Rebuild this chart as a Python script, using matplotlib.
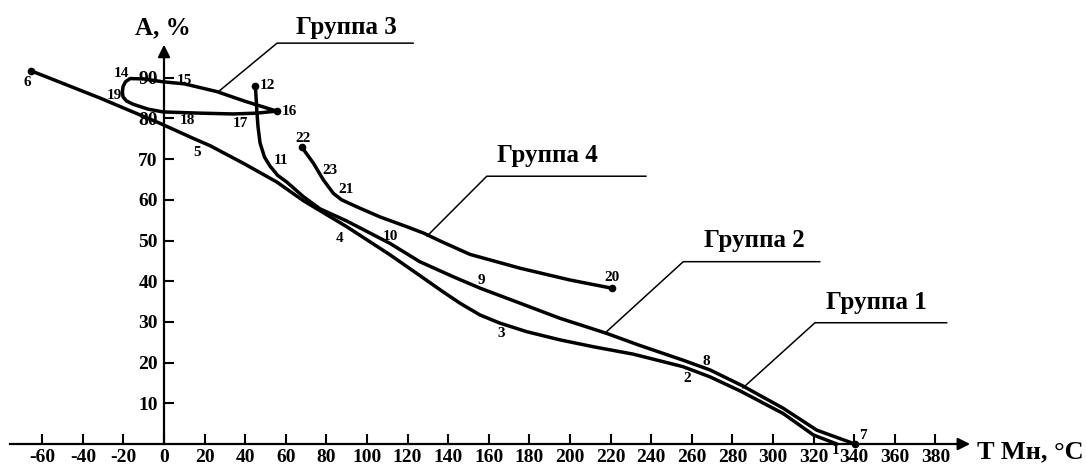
import matplotlib
matplotlib.use("Agg")
import matplotlib.pyplot as plt

# ---------------- data (T Mн, °C  vs  A, %) ----------------
g1_T = [-65.5, -31.5, -2, 14.4, 22.7, 39, 55.5, 68.6, 90, 111, 126, 136, 145.8, 155.7, 165.5,
        178.7, 195, 211.5, 231, 243, 255.7, 269, 284, 305, 320, 331.5]
g1_A = [91.7, 85.0, 78.8, 75.1, 73.3, 69.0, 64.4, 59.8, 53.4, 46.6, 41.4, 37.9, 34.6, 31.7, 29.7,
        27.6, 25.6, 23.9, 22.1, 20.6, 19.0, 16.5, 13.0, 7.5, 2.2, 0.0]

g2_T = [45, 45.5, 45.7, 46.3, 47.3, 49.5, 52.2, 56, 60.4, 68.6, 76.8, 90, 111.3, 126, 142.5,
        155.7, 175.4, 195, 218, 234.5, 255.7, 269, 285, 305, 321.6, 340.4]
g2_A = [88.0, 84.0, 82.0, 78.0, 74.0, 70.5, 68.3, 66.0, 64.4, 60.8, 57.8, 54.8, 49.3, 44.8, 41.1,
        38.3, 34.6, 30.9, 27.2, 24.2, 20.6, 18.2, 14.3, 8.8, 3.4, 0.0]

g3_T = [55.5, 40, 26, 10, -0.5, -10, -16.7, -19, -20.2, -20.5, -20.2, -18.5, -15.3, -8, -0.5, 17.7, 34, 45.7, 55.5]
g3_A = [81.8, 84.2, 86.6, 88.5, 89.0, 89.7, 89.8, 89.0, 87.8, 86.5, 85.3, 84.3, 83.5, 82.3, 81.6, 81.3, 81.1, 81.3, 81.8]

g4_T = [67.8, 73.6, 78.5, 83.4, 87.5, 94.9, 106.4, 119.6, 128, 136, 150.7, 175.4, 200, 220.5]
g4_A = [73.0, 69.0, 64.9, 61.6, 60.0, 58.3, 55.8, 53.4, 51.8, 49.9, 46.6, 43.2, 40.3, 38.3]

dot_T = [-65.5, 45, 55.5, 67.8, 220.5, 340.4]
dot_A = [91.7, 88.0, 81.8, 73.0, 38.3, 0.0]

pt_labels = ["6", "14", "15", "19", "18", "17", "16", "12", "11", "22", "23", "21",
             "5", "4", "10", "9", "3", "20", "8", "2", "7", "1"]
pt_T = [-67.5, -20.8, 6.5, -24.6, 7.5, 37.4, 58, 47, 54.2, 68.3, 81.8, 89.6,
        16.3, 86.7, 111.3, 156.5, 166.3, 220.8, 267.3, 257.8, 344.5, 331]
pt_A = [88.9, 91.1, 89.2, 85.7, 79.4, 78.8, 81.6, 88.0, 69.6, 75.1, 67.1, 62.6,
        71.7, 50.5, 50.9, 40.3, 27.2, 41.0, 20.2, 16.1, 2.2, -1.5]
pt_ha = ["center", "center", "left", "center", "left", "center", "left", "left", "left",
         "center", "center", "center", "center", "center", "center", "center", "center",
         "center", "center", "center", "center", "center"]

group_names = ["Группа 1", "Группа 2", "Группа 3", "Группа 4"]
group_text_T = [350.7, 291, 89.7, 189]
group_text_A = [34.8, 49.9, 102.3, 71.0]
# leader: (curve point) -> (elbow) -> (end of horizontal)
lead_T0 = [285.2, 218, 26.6, 129.6]
lead_A0 = [13.8, 27.6, 86.5, 51.1]
lead_T1 = [320.7, 255.8, 55.7, 159]
lead_A1 = [29.8, 44.8, 98.5, 65.8]
lead_T2 = [385.5, 323, 122.7, 237.4]

x_ticks = list(range(-60, 381, 20))
y_ticks = list(range(10, 91, 10))

# ---------------- figure ----------------
plt.rcParams['font.family'] = ['Liberation Serif', 'DejaVu Serif']
plt.rcParams['font.weight'] = 'bold'

fig = plt.figure(figsize=(10.87, 4.71), dpi=100)
fig.patch.set_facecolor('white')
ax = fig.add_axes([0, 0, 1, 1])
ax.set_xlim(-80.8, 454.7)
ax.set_ylim(-6.63, 109.1)

for s in ['top', 'right']:
    ax.spines[s].set_visible(False)
ax.spines['left'].set_position(('data', 0))
ax.spines['bottom'].set_position(('data', 0))
ax.spines['left'].set_bounds(0, 96)
ax.spines['bottom'].set_bounds(-75.9, 394)
ax.spines['left'].set_linewidth(1.6)
ax.spines['bottom'].set_linewidth(1.6)

ax.set_xticks(x_ticks)
ax.set_xticklabels([str(v) for v in x_ticks])
ax.set_yticks(y_ticks)
ax.set_yticklabels([str(v) for v in y_ticks])
ax.tick_params(axis='x', direction='in', length=7.5, width=1.5, pad=3.5, labelsize=14)
ax.tick_params(axis='y', direction='in', length=7.5, width=1.5, pad=4.5, labelsize=14)
for lab in ax.get_xticklabels() + ax.get_yticklabels():
    lab.set_fontweight('bold')

# arrows
ax.annotate('', xy=(398.5, 0), xytext=(390, 0),
            arrowprops=dict(arrowstyle='-|>', color='black', lw=1.6, mutation_scale=18))
ax.annotate('', xy=(0, 98.8), xytext=(0, 95),
            arrowprops=dict(arrowstyle='-|>', color='black', lw=1.6, mutation_scale=18))

ax.text(-0.5, 102.3, "A, %", ha='center', va='center', fontsize=18, fontweight='bold')
ax.text(400.5, -2.0, "T Mн, °C", ha='left', va='center', fontsize=19, fontweight='bold')

lw = 2.5
for gt, ga in [(g1_T, g1_A), (g2_T, g2_A), (g3_T, g3_A), (g4_T, g4_A)]:
    ax.plot(gt, ga, color='black', lw=lw, solid_capstyle='round', solid_joinstyle='round')
ax.plot(dot_T, dot_A, 'o', color='black', ms=4.5, ls='none')

for lab, t, a, ha in zip(pt_labels, pt_T, pt_A, pt_ha):
    ax.text(t, a, lab, ha=ha, va='center', fontsize=11, fontweight='bold')

for name, tt, ta, t0, a0, t1, a1, t2 in zip(group_names, group_text_T, group_text_A,
                                             lead_T0, lead_A0, lead_T1, lead_A1, lead_T2):
    ax.plot([t0, t1, t2], [a0, a1, a1], color='black', lw=1.1)
    ax.text(tt, ta, name, ha='center', va='center', fontsize=18, fontweight='bold')

fig.savefig("out.png", dpi=100, facecolor='white')
